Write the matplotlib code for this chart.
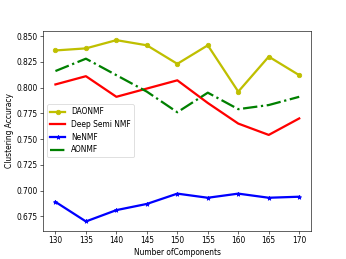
import matplotlib
matplotlib.use("Agg")
import matplotlib.pyplot as plt

components = [130, 135, 140, 145, 150, 155, 160, 165, 170]
daonmf = [0.836, 0.838, 0.846, 0.841, 0.823, 0.841, 0.796, 0.830, 0.812]
deep_semi_nmf = [0.803, 0.811, 0.791, 0.799, 0.807, 0.785, 0.765, 0.754, 0.770]
nenmf = [0.689, 0.670, 0.681, 0.687, 0.697, 0.693, 0.697, 0.693, 0.694]
aonmf = [0.816, 0.828, 0.812, 0.796, 0.776, 0.795, 0.779, 0.783, 0.791]

dpi = 54
fig = plt.figure(figsize=(346 / dpi, 259 / dpi), dpi=dpi)
ax = fig.add_subplot(111)
ax.plot(components, daonmf, 'y-o', lw=3, label='DAONMF')
ax.plot(components, deep_semi_nmf, 'r-', lw=3, label='Deep Semi NMF')
ax.plot(components, nenmf, 'b-*', lw=3, label='NeNMF')
ax.plot(components, aonmf, 'g-.', lw=3, label='AONMF')
ax.set_xticks(components)
ax.set_xlabel('Number ofComponents')
ax.set_ylabel('Clustering Accuracy')
ax.legend(loc='center left')
fig.savefig('out.png', dpi=dpi)
